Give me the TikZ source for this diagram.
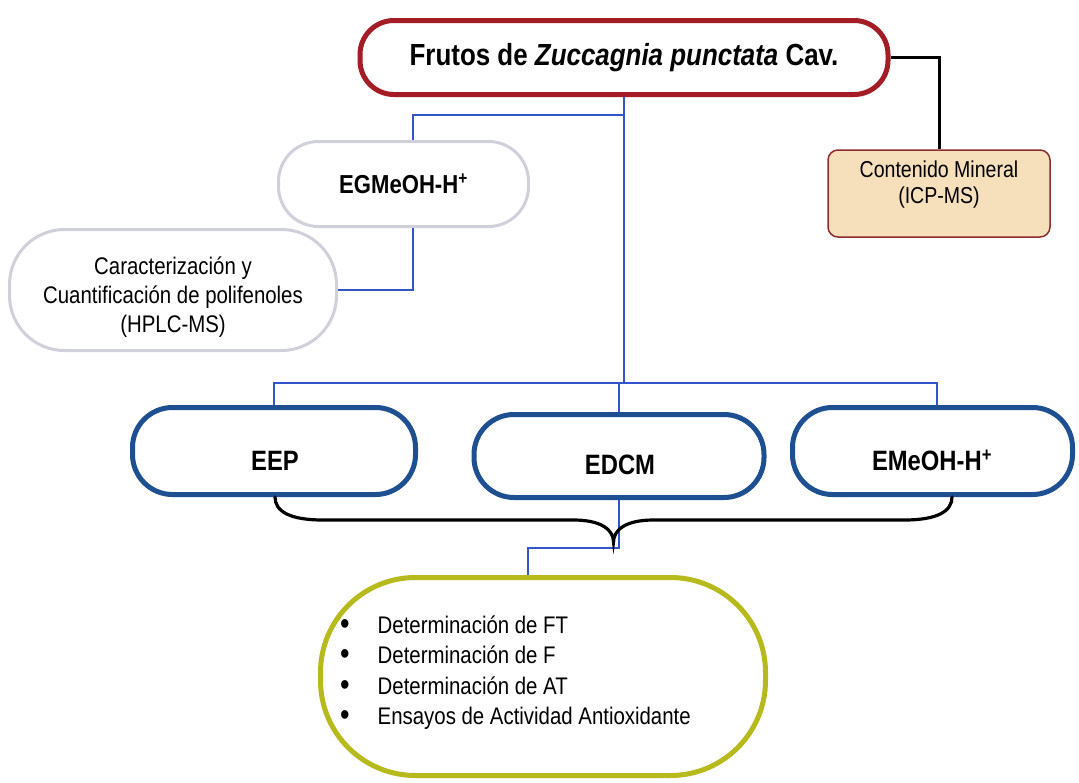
\documentclass[tikz,border=0pt]{standalone}
\usepackage{fontspec}
\setmainfont{Liberation Sans}[FakeStretch=0.85]
\definecolor{redb}{RGB}{163,28,38}
\definecolor{blueb}{RGB}{30,80,145}
\definecolor{grayb}{RGB}{208,208,218}
\definecolor{yelb}{RGB}{182,186,28}
\definecolor{tanfill}{RGB}{246,224,188}
\definecolor{tanb}{RGB}{140,45,45}
\definecolor{bluel}{RGB}{50,85,205}
\newcommand{\bigdot}{\raisebox{-1pt}{\fontsize{32}{30}\selectfont\textbullet}}
\begin{document}
\begin{tikzpicture}[x=1pt,y=-1pt,
  pill/.style={draw, inner sep=0pt, align=center},
  redpill/.style={pill, draw=redb, line width=5pt, rounded corners=34pt},
  graypill/.style={pill, draw=grayb, line width=3pt, fill=white},
  bluepill/.style={pill, draw=blueb, line width=5pt, rounded corners=40pt, minimum height=87pt},
  yelpill/.style={pill, draw=yelb, line width=5pt, rounded corners=95pt},
  tanbox/.style={pill, draw=tanb, line width=1.5pt, fill=tanfill, rounded corners=10pt},
  txt/.style={inner sep=0pt, align=center},
  bigbold/.style={font=\fontsize{28}{32}\selectfont\bfseries},
  bluelink/.style={draw=bluel, line width=1.5pt},
  blacklink/.style={draw=black, line width=3pt},
  bracepath/.style={draw=black, line width=3.2pt, line cap=round}
]
\useasboundingbox[fill=white] (0,0) rectangle (1079,782);

% nodes
\node[redpill, minimum width=528pt, minimum height=74pt,
      font=\fontsize{30.5}{34}\selectfont\bfseries] (top) at (624,57.5)
      {Frutos de \textit{Zuccagnia punctata} Cav.};

\node[tanbox, minimum width=222pt, minimum height=87pt] (min) at (939,193.5) {};
\node[txt, font=\fontsize{23}{26}\selectfont] (mint) at (939,185)
      {Contenido Mineral\\(ICP-MS)};

\node[graypill, minimum width=250pt, minimum height=85pt, rounded corners=40pt,
      font=\fontsize{26}{30}\selectfont\bfseries] (eg) at (403.5,184)
      {EGMeOH-H\textsuperscript{+}};

\node[graypill, minimum width=327pt, minimum height=121pt, rounded corners=55pt] (car) at (173,290) {};
\node[txt, font=\fontsize{24}{29}\selectfont] (cart) at (173,297)
      {Caracterización y\\Cuantificación de polifenoles\\(HPLC-MS)};

\node[bluepill, minimum width=283pt] (eep) at (274,451) {};
\node[txt, bigbold] (eept) at (275,461) {EEP};
\node[bluepill, minimum width=290pt, minimum height=83pt] (edcm) at (619,456) {};
\node[txt, bigbold] (edcmt) at (620,465) {EDCM};
\node[bluepill, minimum width=280pt] (emeoh) at (932.5,451) {};
\node[txt, bigbold] (emeoht) at (932,460) {EMeOH-H\textsuperscript{+}};

\node[yelpill, minimum width=445pt, minimum height=198pt] (res) at (543,676.5) {};
\node[inner sep=0pt, anchor=west, font=\fontsize{24}{30.5}\selectfont] (list) at (340,673)
  {\begin{tabular}{@{}l@{\hspace{28pt}}l@{}}
   \bigdot & Determinación de FT\\
   \bigdot & Determinación de F\\
   \bigdot & Determinación de AT\\
   \bigdot & Ensayos de Actividad Antioxidante
   \end{tabular}};

% junction coordinates
\coordinate (j1) at (413,115);
\coordinate (j2) at (624,383);
\coordinate (j3) at (528,548);
\coordinate (tip) at (613.5,542);
\coordinate (bl) at (275,497);
\coordinate (br) at (952,497);

% connectors
\draw[blacklink] (top.east) -| (min.north);
\draw[bluelink] (top.south) |- (j1) -- (j1 |- eg.north);
\draw[bluelink] (j1 |- eg.south) |- (car.east);
\draw[bluelink] (top.south) -- (j2);
\draw[bluelink] (eep.north) -- ++(0,-22) -| ([xshift=4.5pt]emeoh.north);
\draw[bluelink] (edcm.north) -- (edcm.north |- j2);
\draw[bluelink] (edcm.south) |- (j3) -- (j3 |- res.north);

% brace
\draw[bracepath] (bl) .. controls ([yshift=-14]bl) and ([xshift=14,yshift=-23]bl) .. ([xshift=48,yshift=-23]bl)
  -- ([xshift=-40,yshift=22]tip) .. controls ([xshift=-12,yshift=22]tip) and ([yshift=12]tip) .. (tip)
  .. controls ([yshift=12]tip) and ([xshift=12,yshift=22]tip) .. ([xshift=40,yshift=22]tip)
  -- ([xshift=-48,yshift=-23]br) .. controls ([xshift=-14,yshift=-23]br) and ([yshift=-14]br) .. (br);
\end{tikzpicture}
\end{document}
